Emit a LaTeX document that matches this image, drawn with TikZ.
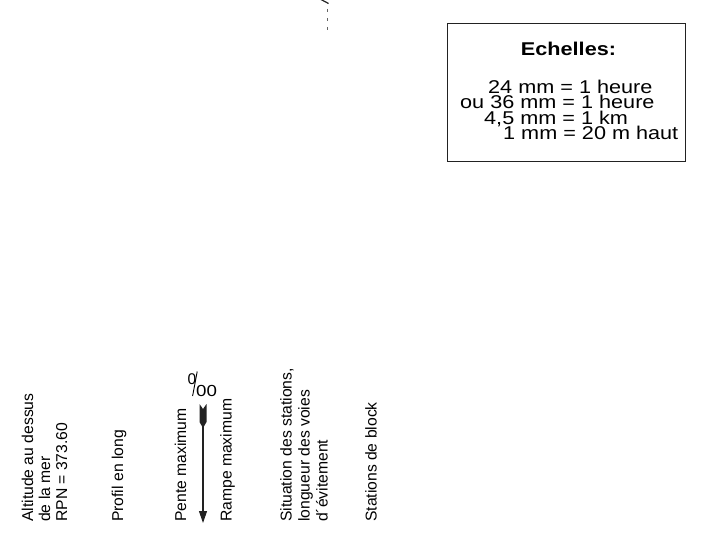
\documentclass[tikz,border=0pt]{standalone}
\usepackage{fontspec}
\setmainfont{Liberation Sans}
\newfontfamily\widefont[FakeStretch=1.17]{Liberation Sans}
\usetikzlibrary{arrows.meta}
\definecolor{dark}{HTML}{222222}

\begin{document}
\begin{tikzpicture}[x=1pt, y=-1pt,
    rotlabel/.style={rotate=90, anchor=north west, inner sep=0pt, align=left, font=\fontsize{15.7}{17}\selectfont},
    scaleline/.style={anchor=base west, inner sep=0pt, text height=10pt, text depth=0pt, font=\widefont\fontsize{18.5}{15}\selectfont}]
    \useasboundingbox (0,0) rectangle (701,559);

    % cut-off line at the top
    \draw[dark, line width=1.2pt] (321,-0.5) -- (328.5,3.5);
    \draw[dark!70, line width=1.2pt, dash pattern=on 3.5pt off 5.5pt] (327.7,9) -- (327.7,31);

    % scales box
    \draw[dark, line width=1pt] (447,24) rectangle (685,161);
    \node[anchor=base, inner sep=0pt, font=\widefont\bfseries\fontsize{18.5}{15}\selectfont] (title) at (568.5,55.5) {Echelles:};
    \node[scaleline] (sctime) at (488,93.5) {24 mm = 1 heure};
    \node[scaleline] (sctimeb) at (460,108.8) {ou 36 mm = 1 heure};
    \node[scaleline] (sclen) at (484,124.1) {4,5 mm = 1 km};
    \node[scaleline] (schgt) at (503,139.4) {1 mm = 20 m haut};

    % row labels
    \node[rotlabel] (alt) at (21.5,522) {Altitude au dessus\\de la mer\\RPN = 373.60};
    \node[rotlabel] (profil) at (111.6,522) {Profil en long};
    \node[rotlabel] (pente) at (174.6,522) {Pente maximum};
    \node[rotlabel] (rampe) at (220,522) {Rampe maximum};
    \node[rotlabel, font=\fontsize{15.7}{18}\selectfont] (situ) at (280,522) {Situation des stations,\\longueur des voies\\d´évitement};
    \node[rotlabel] (block) at (365,522) {Stations de block};

    % per mille sign
    \node[anchor=base west, inner sep=0pt, font=\fontsize{15.5}{15.5}\selectfont] (pmone) at (187.4,384) {0};
    \node[anchor=base west, inner sep=0pt, font=\widefont\fontsize{16}{16}\selectfont] (pmtwo) at (196,396) {00};
    \draw[line width=0.9pt] (197.2,371.5) -- (192.6,396);

    % gradient arrow
    \fill[dark] (199.5,404) -- (203,409) -- (206.5,404) -- (206.5,422) -- (203,428) -- (199.5,422) -- cycle;
    \coordinate (ptail) at (203,426);
    \coordinate (ptip) at (203,523);
    \draw[dark, line width=1.1pt, -{Triangle[length=12pt,width=8pt]}] (ptail) -- (ptip);
\end{tikzpicture}
\end{document}
